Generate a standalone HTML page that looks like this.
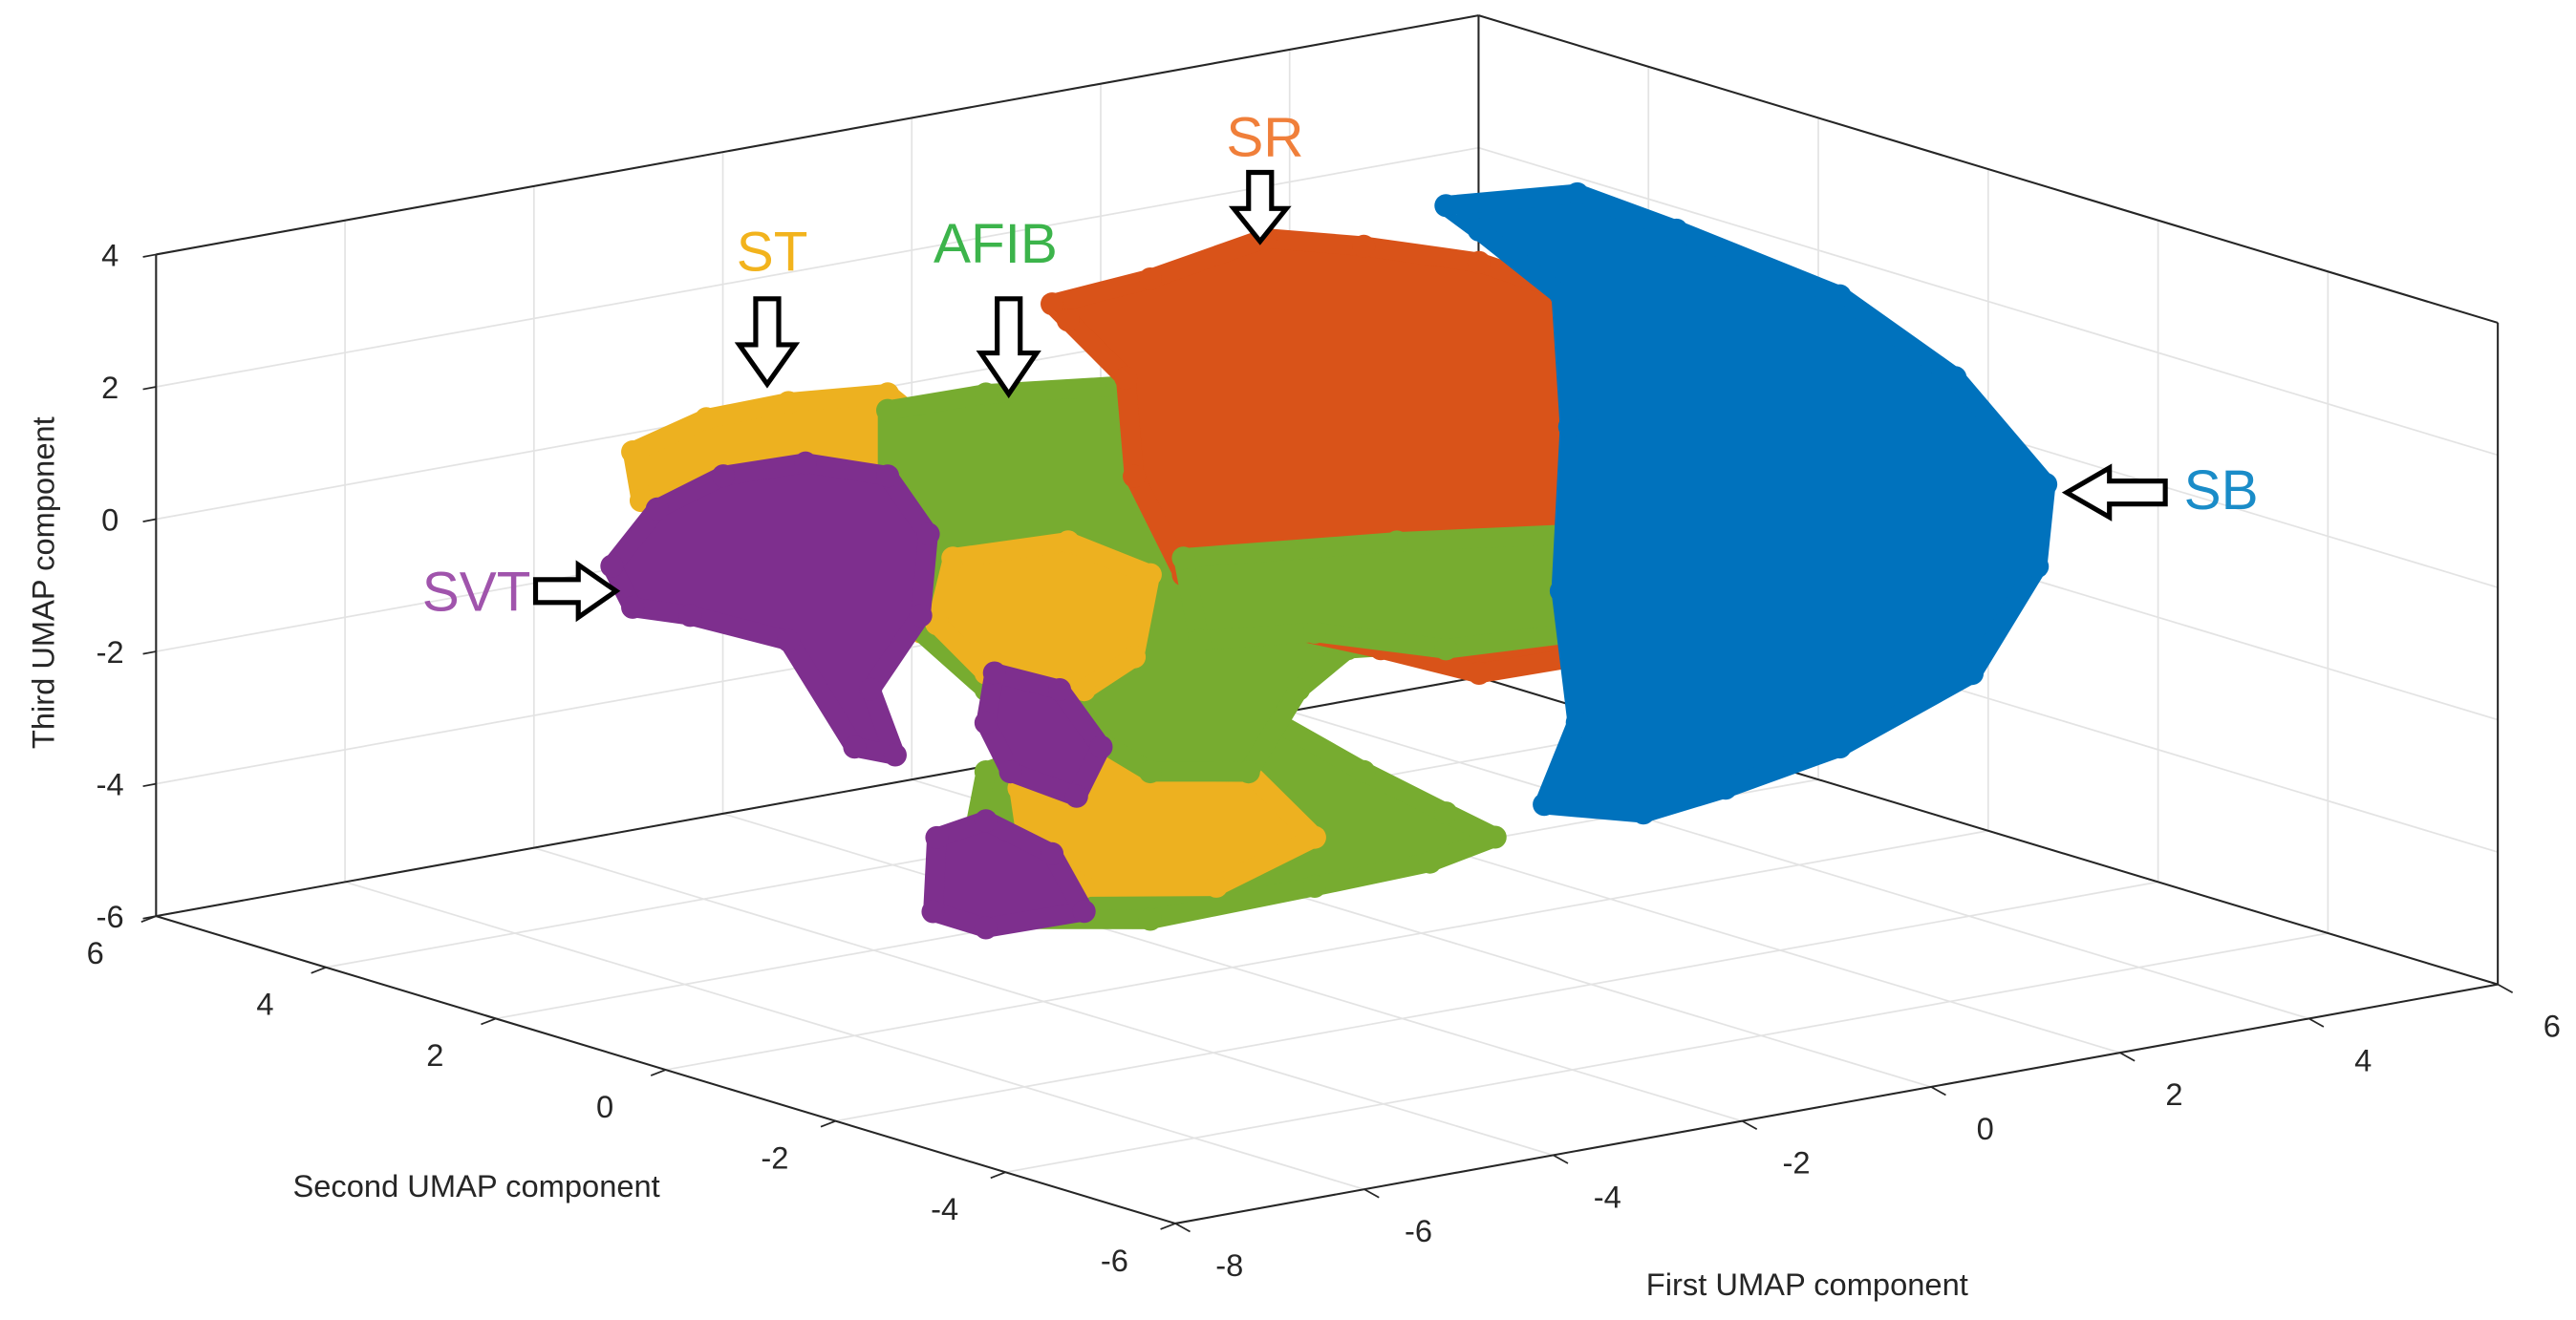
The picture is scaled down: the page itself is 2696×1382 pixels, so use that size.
<!DOCTYPE html>
<html><head><meta charset="utf-8"><style>html,body{margin:0;padding:0;background:#fff}svg{display:block}text{font-family:"Liberation Sans",Arial,sans-serif}</style></head>
<body>
<svg id="chart" width="2696" height="1382" viewBox="0 0 1568 804" preserveAspectRatio="none" xmlns="http://www.w3.org/2000/svg">
<g id="grid"></g>
<g id="box"></g>
<g id="ticks"></g>
<g id="marks"></g>
<text x="0" y="0" transform="translate(33,355) rotate(-90)" text-anchor="middle" font-size="19" fill="#262626">Third UMAP component</text>
<text x="290" y="729" text-anchor="middle" font-size="19" fill="#262626">Second UMAP component</text>
<text x="1100" y="789" text-anchor="middle" font-size="19" fill="#262626">First UMAP component</text>
<g font-size="34">
<text x="770" y="95" text-anchor="middle" fill="#f07f3a">SR</text>
<text x="470" y="165" text-anchor="middle" fill="#f2b31d">ST</text>
<text x="606" y="160" text-anchor="middle" fill="#3cb44b">AFIB</text>
<text x="290" y="372" text-anchor="middle" fill="#a054ac">SVT</text>
<text x="1352" y="310" text-anchor="middle" fill="#1a8cc8">SB</text>
<g fill="#fff" stroke="#000" stroke-width="3" stroke-linejoin="miter">
<polygon points="760,105 774,105 774,127 783,127 767,147 751,127 760,127"/>
<polygon points="460,182 474,182 474,210 484,210 467,234 450,210 460,210"/>
<polygon points="607,182 621,182 621,215 631,215 614,240 597,215 607,215"/>
<polygon points="326,353 352,353 352,344 375,360 352,376 352,367 326,367"/>
<polygon points="1318,293 1284,293 1284,285 1258,300 1284,315 1284,307 1318,307"/>
</g></g>
</svg>
<script>
// axis ticks
const xTicks=[-8,-6,-4,-2,0,2,4,6];
const yTicks=[-6,-4,-2,0,2,4,6];
const zTicks=[-6,-4,-2,0,2,4];
// cluster outlines (First UMAP x, Third UMAP z) at Second UMAP y=0
const sbX=[0.26,1.65,2.70,4.43,5.65,6.61,6.52,5.83,4.43,3.22,2.35,1.30,1.65,1.48,1.57,1.48,0.61];
const sbZ=[4.93,4.75,3.93,2.49,0.94,-0.92,-2.14,-3.58,-4.33,-4.64,-4.79,-4.39,-3.24,-1.21,1.25,3.26,4.47];
const srX=[-3.91,-2.87,-1.65,-0.61,0.61,1.65,2.17,2.17,2.09,1.65,0.61,-0.43,-1.65,-2.52,-3.04,-3.13,-3.74];
const srZ=[4.52,4.63,4.93,4.54,3.98,3.21,1.83,0.10,-1.37,-2.25,-2.23,-1.59,-0.90,0.07,1.69,3.20,4.23];
const afibX=[-5.65,-4.61,-3.22,-2.52,-1.83,-0.78,0.61,1.65,2.35,1.65,0.61,-0.78,-1.30,-1.83,-2.87,-3.74,-4.61,-5.39,-5.65];
const afibZ=[3.36,3.34,3.10,3.42,2.87,1.85,0.50,-0.51,-1.06,-1.75,-1.73,-1.50,-1.98,-3.09,-2.82,-1.85,-1.13,0.06,1.62];
const afibBandX=[-2.52,-0.26,1.65,2.35,1.65,0.26,-1.13,-2.35];
const afibBandZ=[0.32,-0.02,-0.39,-1.06,-1.88,-1.77,-1.16,-0.97];
const afibLowX=[-4.61,-3.22,-1.83,-0.61,0.26,0.78,0.09,-1.13,-2.87,-4.26,-4.78];
const afibLowZ=[-2.37,-1.99,-2.10,-3.40,-4.25,-4.75,-4.95,-5.00,-5.05,-4.69,-3.57];
const stX=[-8.35,-7.57,-6.70,-5.65,-5.22,-4.26,-3.22,-2.87,-3.04,-3.57,-4.61,-5.30,-6.35,-7.39,-8.26];
const stZ=[3.43,3.73,3.75,3.61,3.00,2.13,1.36,0.16,-1.04,-1.40,-0.88,-0.08,1.18,1.95,2.67];
const stMidX=[-4.96,-3.74,-2.87,-3.04,-3.57,-4.61,-5.13];
const stMidZ=[0.95,0.88,0.16,-1.04,-1.40,-0.88,0.00];
const stLowX=[-4.26,-2.87,-1.83,-1.13,-2.17,-3.57,-4.17];
const stLowZ=[-2.71,-2.57,-3.09,-4.26,-4.73,-4.38,-3.60];
const svtX=[-8.57,-8.09,-7.39,-6.52,-5.65,-5.22,-5.30,-5.83,-5.57,-6.00,-6.70,-7.74,-8.35];
const svtZ=[1.76,2.50,2.82,2.79,2.37,1.38,0.17,-0.81,-1.87,-1.64,0.15,0.80,1.08];
const svtMidX=[-4.52,-3.83,-3.39,-3.65,-4.35,-4.61];
const svtMidZ=[-0.90,-1.33,-2.31,-2.99,-2.44,-1.63];
const svtLowX=[-5.13,-4.61,-3.91,-3.57,-4.61,-5.17];
const svtLowZ=[-3.23,-3.11,-3.79,-4.75,-4.73,-4.34];

const NS='http://www.w3.org/2000/svg';
const O=[95,558], EX=[57.5,-10.4], EY=[51.7,15.6], EZ=[0,-40.3];
function proj(x,y,z){const a=x+8,b=6-y,c=z+6;return [O[0]+a*EX[0]+b*EY[0]+c*EZ[0],O[1]+a*EX[1]+b*EY[1]+c*EZ[1]];}
function line(g,p,q,stroke,w){const l=document.createElementNS(NS,'line');l.setAttribute('x1',p[0]);l.setAttribute('y1',p[1]);l.setAttribute('x2',q[0]);l.setAttribute('y2',q[1]);l.setAttribute('stroke',stroke);l.setAttribute('stroke-width',w);g.appendChild(l);return l;}
const grid=document.getElementById('grid');
const GC='#e3e3e3';
zTicks.forEach(z=>{
 let l=line(grid,proj(-8,6,z),proj(6,6,z),GC,1);
 
 
 l=line(grid,proj(6,6,z),proj(6,-6,z),GC,1);
 
 
});
xTicks.forEach(x=>{
 let l=line(grid,proj(x,6,-6),proj(x,6,4),GC,1);
 
 
 l=line(grid,proj(x,6,-6),proj(x,-6,-6),GC,1);
 
 
});
yTicks.forEach(y=>{
 let l=line(grid,proj(6,y,-6),proj(6,y,4),GC,1);
 
 
 l=line(grid,proj(-8,y,-6),proj(6,y,-6),GC,1);
 
 
});
const box=document.getElementById('box');
const BC='#262626';
[[[-8,6,-6],[-8,6,4]],[[6,6,-6],[6,6,4]],[[6,-6,-6],[6,-6,4]],[[-8,6,4],[6,6,4]],[[6,6,4],[6,-6,4]],[[-8,6,-6],[6,6,-6]],[[6,6,-6],[6,-6,-6]],[[-8,6,-6],[-8,-6,-6]],[[-8,-6,-6],[6,-6,-6]]].forEach(e=>{
 const l=line(box,proj(...e[0]),proj(...e[1]),BC,1.2);
 
 
});
const ticks=document.getElementById('ticks');
function txt(p,s,anchor){const t=document.createElementNS(NS,'text');t.setAttribute('x',p[0]);t.setAttribute('y',p[1]);t.setAttribute('font-size','19');t.setAttribute('fill','#262626');t.setAttribute('text-anchor',anchor);t.textContent=s;ticks.appendChild(t);return t;}
zTicks.forEach(z=>{const p=proj(-8,6,z);
 line(ticks,p,[p[0]-8,p[1]+1.5],BC,1);
 const t=txt([p[0]-28,p[1]+7],String(z),'middle');
 
 });
yTicks.forEach(y=>{const p=proj(-8,y,-6);
 line(ticks,p,[p[0]-9,p[1]+3.5],BC,1);
 const t=txt([p[0]-37,p[1]+29],String(y),'middle');
 
 });
xTicks.forEach(x=>{const p=proj(x,-6,-6);
 line(ticks,p,[p[0]+9,p[1]+5],BC,1);
 const t=txt([p[0]+33,p[1]+32],String(x),'middle');
 
 });
const marks=document.getElementById('marks');
function blob(xs,zs,color,name){
 const pts=xs.map((x,i)=>proj(x,0,zs[i]));
 const pg=document.createElementNS(NS,'polygon');
 pg.setAttribute('points',pts.map(p=>p.join(',')).join(' '));
 pg.setAttribute('fill',color);pg.setAttribute('stroke',color);pg.setAttribute('stroke-width','12');pg.setAttribute('stroke-linejoin','round');
 
 
 marks.appendChild(pg);
 pts.forEach(p=>{const c=document.createElementNS(NS,'circle');c.setAttribute('cx',p[0]);c.setAttribute('cy',p[1]);c.setAttribute('r','7');c.setAttribute('fill',color);
  
  
  marks.appendChild(c);});
}
blob(afibLowX,afibLowZ,'#77AC30','afib-lower-cluster');
blob(stLowX,stLowZ,'#EDB120','st-lower-cluster');
blob(svtLowX,svtLowZ,'#7E2F8E','svt-lower-cluster');
blob(stX,stZ,'#EDB120','st-cluster');
blob(afibX,afibZ,'#77AC30','afib-cluster');
blob(stMidX,stMidZ,'#EDB120','st-mid-cluster');
blob(srX,srZ,'#D95319','sr-cluster');
blob(afibBandX,afibBandZ,'#77AC30','afib-band-cluster');
blob(sbX,sbZ,'#0072BD','sb-cluster');
blob(svtMidX,svtMidZ,'#7E2F8E','svt-mid-cluster');
blob(svtX,svtZ,'#7E2F8E','svt-cluster');
</script>
</body></html>
